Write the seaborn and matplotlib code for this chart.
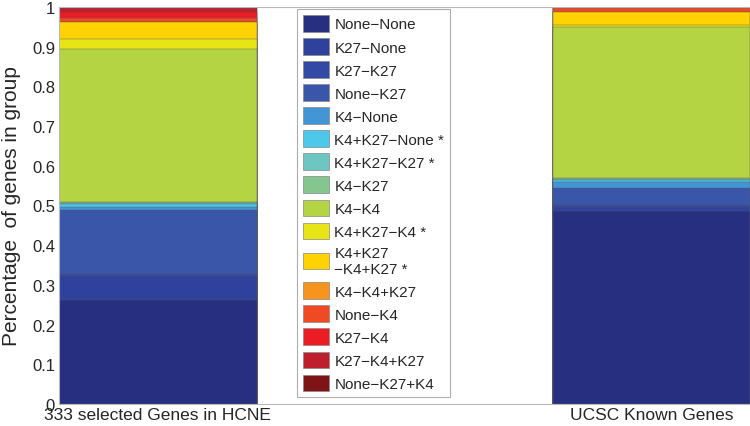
import numpy as np
import pandas as pd
import matplotlib
matplotlib.use('Agg')
import matplotlib.pyplot as plt
from matplotlib.patches import Patch
import seaborn as sns

# Groups on the x axis
groups = ['333 selected Genes in HCNE', 'UCSC Known Genes']

# Chromatin state transitions, bottom of the stack first
states = ['None\u2212None', 'K27\u2212None', 'K27\u2212K27', 'None\u2212K27', 'K4\u2212None',
          'K4+K27\u2212None *', 'K4+K27\u2212K27 *', 'K4\u2212K27', 'K4\u2212K4',
          'K4+K27\u2212K4 *', 'K4+K27\n\u2212K4+K27 *', 'K4\u2212K4+K27', 'None\u2212K4',
          'K27\u2212K4', 'K27\u2212K4+K27', 'None\u2212K27+K4']

# Fractions (one value per state)
hcne = [0.263, 0.060, 0.005, 0.160, 0.008, 0.007, 0.003, 0.003, 0.385,
        0.026, 0.041, 0.002, 0.010, 0.015, 0.010, 0.002]
ucsc = [0.486, 0.009, 0.005, 0.043, 0.017, 0.004, 0.003, 0.003, 0.379,
        0.005, 0.032, 0.002, 0.010, 0.001, 0.001, 0.000]

colors = ['#272f80', '#2e419c', '#3249a6', '#3a56a8', '#4396d5', '#4cc8ea',
          '#6ec6c2', '#85c68f', '#b5d444', '#e8e516', '#ffd203', '#f7941d',
          '#ef4a24', '#ec1c24', '#bf1e2d', '#7f1416']

df = pd.DataFrame({'state': states, groups[0]: hcne, groups[1]: ucsc})
cum = df[groups].cumsum()

sns.set_style('white')
plt.rcParams['font.family'] = ['Liberation Sans', 'DejaVu Sans']

fig = plt.figure(figsize=(7.5, 4.27), dpi=100)
ax = fig.add_axes([0.079, 0.0515, 0.921, 0.93])

# draw cumulative bars from the top down, so each lower layer covers the one above
for i in range(len(states) - 1, -1, -1):
    sns.barplot(x=groups, y=cum.iloc[i].values, color=colors[i], width=0.4,
                saturation=1, edgecolor='#555555', linewidth=0.3, ax=ax)

ax.set_xlim(-0.2, 1.2)
ax.set_ylim(0, 1)
ax.set_yticks(np.arange(0, 1.01, 0.1))
ax.set_yticklabels(['0', '0.1', '0.2', '0.3', '0.4', '0.5', '0.6', '0.7', '0.8', '0.9', '1'])
ax.tick_params(length=0, labelsize=12, pad=3)
ax.tick_params(axis='x', labelsize=12.5, pad=2)
ax.set_ylabel('Percentage  of genes in group', fontsize=15, labelpad=8)
for s in ax.spines.values():
    s.set_color('#b8b8b8')
    s.set_linewidth(0.8)

handles = [Patch(facecolor=c, edgecolor='#888888', linewidth=0.5) for c in colors]
leg = ax.legend(handles, states, loc='upper left', bbox_to_anchor=(0.344, 0.995),
                borderaxespad=0, fontsize=11, frameon=True, fancybox=False,
                edgecolor='#999999', handlelength=1.7, handleheight=1.3,
                labelspacing=0.42, handletextpad=0.35, borderpad=0.4)
leg.get_frame().set_linewidth(0.8)

fig.savefig('out.png', dpi=100)
